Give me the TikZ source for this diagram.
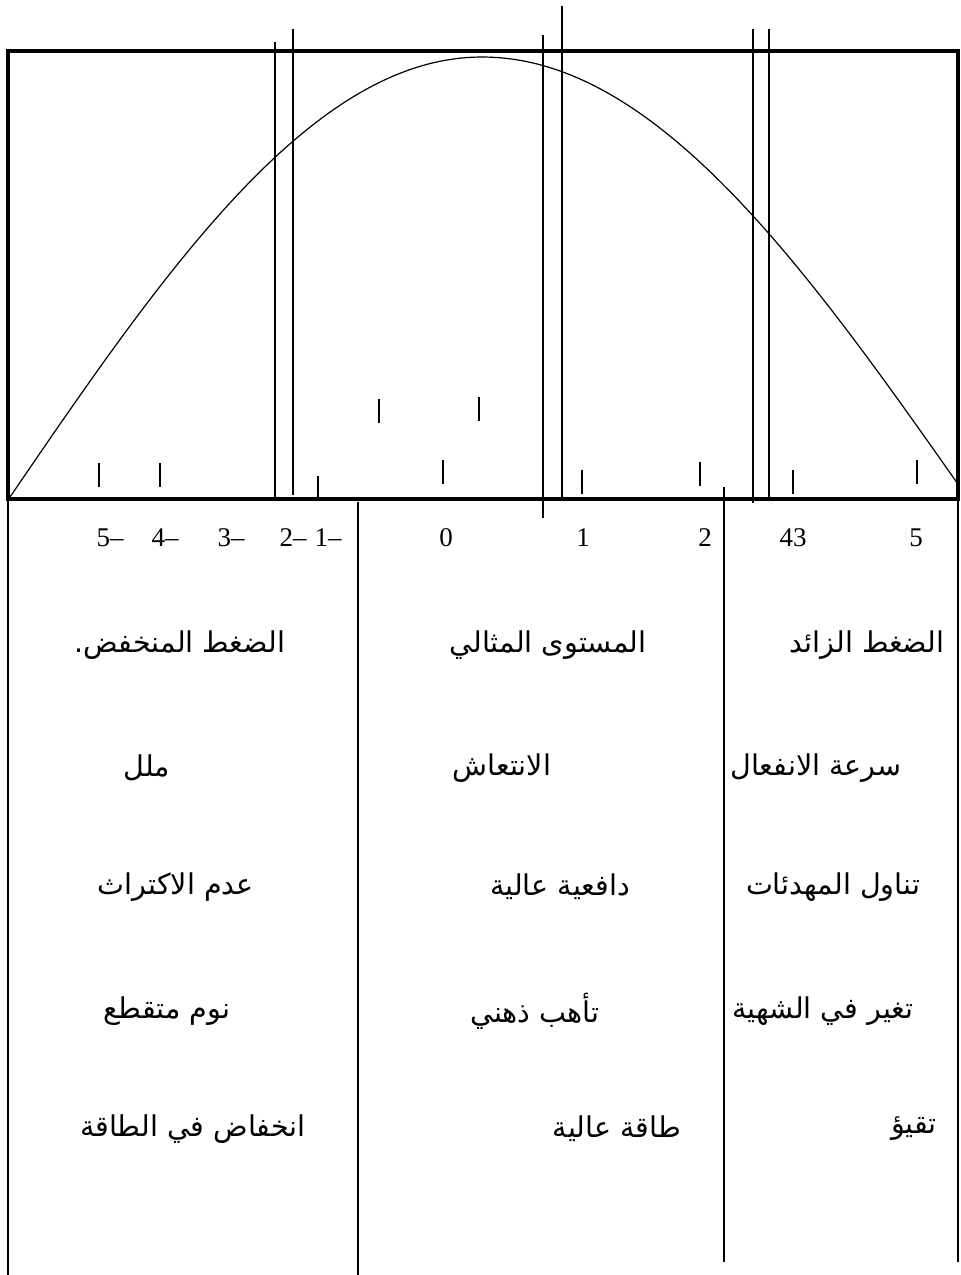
\documentclass[tikz,border=0pt]{standalone}
\usepackage{fontspec}
\setmainfont{Liberation Serif}
\newfontfamily\arabicfont[Script=Arabic]{DejaVu Sans}
\TeXXeTstate=1
\usepackage{tikz}
\tikzset{
  bx/.style ={draw=black, line width=2.2pt},
  rl/.style ={draw=black, line width=0.6pt},
  num/.style={inner sep=0pt, font=\fontsize{13.5}{16}\selectfont},
  ar/.style ={inner sep=0pt, font=\arabicfont\fontsize{14.3}{17}\selectfont},
}

\begin{document}
\begin{tikzpicture}[x=0.5pt,y=-0.5pt]
\useasboundingbox (0,0) rectangle (961,1275);
% --- curve ---
\draw[rl,smooth] plot[domain=10:482,samples=70] (\x,{57+440*(1-cos((\x-482)/472*90))})
  -- plot[domain=482:957,samples=70] (\x,{57+440*(1-cos((\x-482)/485*90))});
% --- frame ---
\draw[bx] (8,51) rectangle (958,499);
% --- level lines ---
\foreach \x/\a/\b in {275/42/497, 293/29/495, 543/35/518, 562/6/497, 753/29/503, 769/29/497}
  \draw[rl] (\x,\a) -- (\x,\b);
% --- ticks ---
\foreach \x/\a in {99/463, 160/463, 318/476, 293/400, 379/399, 479/397, 443/460, 582/470, 700/462, 793/470, 917/460}
  \draw[rl] (\x,\a) -- ++(0,24);
% --- columns ---
\foreach \x/\a/\b in {8/499/1275, 358/502/1275, 724/487/1262, 958/499/1262}
  \draw[rl] (\x,\a) -- (\x,\b);
% --- scale ---
\foreach \x/\t [count=\i] in {110/5–, 165/4–, 231/3–, 293/2–, 328/1–, 446/0, 583/1, 705/2, 793/43, 916/5}
  \node[num] (n\i) at (\x,538) {\t};
% --- high stress ---
\node[ar] (hi1) at (867,645)  {\beginR الضغط الزائد\endR};
\node[ar] (hi2) at (816,768)  {\beginR سرعة الانفعال\endR};
\node[ar] (hi3) at (833,887)  {\beginR تناول المهدئات\endR};
\node[ar] (hi4) at (823,1011) {\beginR تغير في الشهية\endR};
\node[ar] (hi5) at (914,1129) {\beginR تقيؤ\endR};
% --- optimal level ---
\node[ar] (op1) at (548,645)  {\beginR المستوى المثالي\endR};
\node[ar] (op2) at (502,768)  {\beginR الانتعاش\endR};
\node[ar] (op3) at (560,887)  {\beginR دافعية عالية\endR};
\node[ar] (op4) at (535,1011) {\beginR تأهب ذهني\endR};
\node[ar] (op5) at (617,1129) {\beginR طاقة عالية\endR};
% --- low stress ---
\node[ar] (lo1) at (180,645)  {\beginR الضغط المنخفض.\endR};
\node[ar] (lo2) at (147,768)  {\beginR ملل\endR};
\node[ar] (lo3) at (176,887)  {\beginR عدم الاكتراث\endR};
\node[ar] (lo4) at (167,1011) {\beginR نوم متقطع\endR};
\node[ar] (lo5) at (193,1129) {\beginR انخفاض في الطاقة\endR};
\end{tikzpicture}
\end{document}
